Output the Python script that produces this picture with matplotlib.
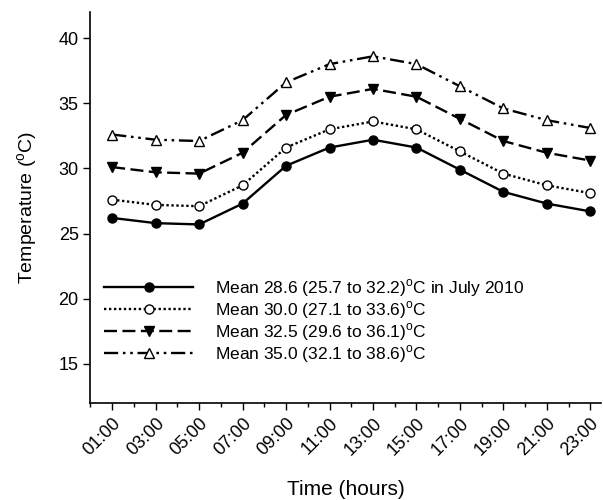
import matplotlib
matplotlib.use("Agg")
import matplotlib.pyplot as plt
import numpy as np

plt.rcParams['font.family'] = ['Liberation Sans', 'DejaVu Sans']
plt.rcParams['mathtext.fontset'] = 'custom'
plt.rcParams['mathtext.rm'] = 'Liberation Sans'

# data
hours = [1, 3, 5, 7, 9, 11, 13, 15, 17, 19, 21, 23]
hour_labels = ["%02d:00" % h for h in hours]
july2010 = [26.2, 25.8, 25.7, 27.3, 30.2, 31.6, 32.2, 31.6, 29.9, 28.2, 27.3, 26.7]
mean30 = [27.6, 27.2, 27.1, 28.7, 31.6, 33.0, 33.6, 33.0, 31.3, 29.6, 28.7, 28.1]
mean325 = [30.1, 29.7, 29.6, 31.2, 34.1, 35.5, 36.1, 35.5, 33.8, 32.1, 31.2, 30.6]
mean35 = [32.6, 32.2, 32.1, 33.7, 36.6, 38.0, 38.6, 38.0, 36.3, 34.6, 33.7, 33.1]

labels = [
    r"Mean 28.6 (25.7 to 32.2)$^{\rm o}$C in July 2010",
    r"Mean 30.0 (27.1 to 33.6)$^{\rm o}$C",
    r"Mean 32.5 (29.6 to 36.1)$^{\rm o}$C",
    r"Mean 35.0 (32.1 to 38.6)$^{\rm o}$C",
]

fig = plt.figure(figsize=(6.03, 5.0), dpi=100)
ax = fig.add_axes([0.150, 0.194, 0.847, 0.782])

ms = 6.5
ax.plot(hours, july2010, color='black', lw=1.7, ls='-', marker='o', ms=ms,
        mfc='black', label=labels[0])
ax.plot(hours, mean30, color='black', lw=1.7, ls=(0, (1, 1.1)), marker='o', ms=ms,
        mfc='white', label=labels[1])
ax.plot(hours, mean325, color='black', lw=1.7, ls=(0, (5.5, 2.3)), marker='v', ms=ms,
        mfc='black', label=labels[2])
ax.plot(hours, mean35, color='black', lw=1.7, ls=(0, (6, 2, 1.1, 2, 1.1, 2)), marker='^',
        ms=ms, mfc='white', label=labels[3])

ax.set_xlim(0, 23.5)
ax.set_ylim(12, 42)
ax.set_yticks([15, 20, 25, 30, 35, 40])
ax.set_xticks(hours)
ax.set_xticklabels(hour_labels, rotation=45, ha='right', rotation_mode='anchor')
ax.set_xticks(np.arange(0, 24, 1), minor=True)
ax.tick_params(axis='both', which='major', labelsize=13, length=5, width=1, direction='out')
ax.tick_params(axis='x', which='minor', length=3, width=1)

for side in ['top', 'right']:
    ax.spines[side].set_visible(False)
for side in ['left', 'bottom']:
    ax.spines[side].set_linewidth(1.2)

ax.set_xlabel("Time (hours)", fontsize=15)
ax.xaxis.set_label_coords(0.5, -0.197)
ax.set_ylabel(r"Temperature ($^{\rm o}$C)", fontsize=14, labelpad=13)

ax.legend(loc='lower left', bbox_to_anchor=(0.0, 0.062), frameon=False, fontsize=12.5,
          handlelength=5.1, handletextpad=1.3, labelspacing=0.02, borderpad=0.3,
          borderaxespad=0.5)

fig.savefig("out.png", dpi=100)
